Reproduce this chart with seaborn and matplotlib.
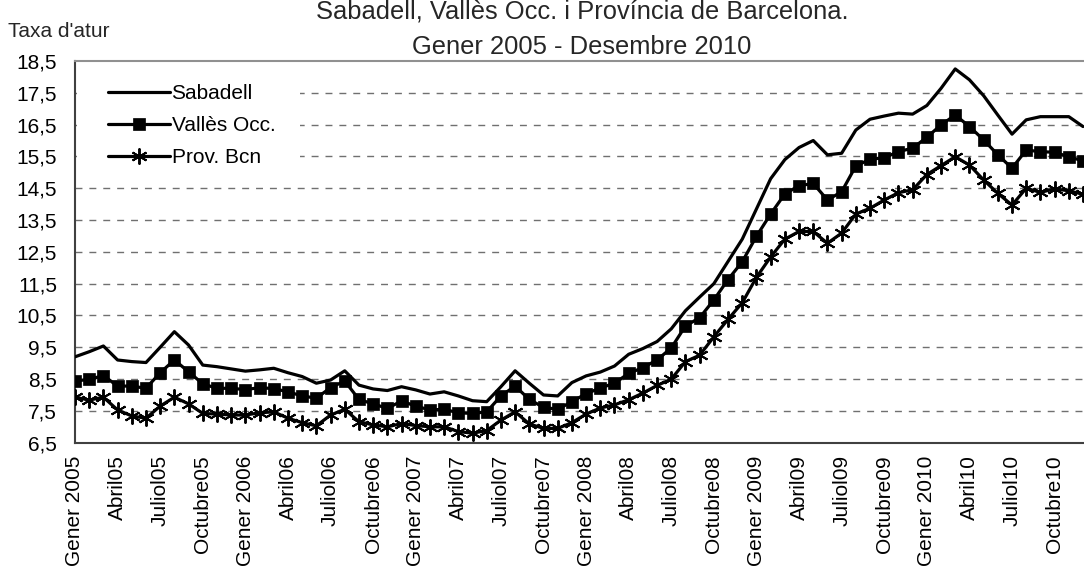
import matplotlib
matplotlib.use("Agg")
import matplotlib.pyplot as plt
import seaborn as sns
import pandas as pd
from matplotlib.patches import Rectangle
from matplotlib.ticker import FixedLocator, FuncFormatter

# ---- data ----
years = ["2005", "2006", "2007", "2008", "2009", "2010"]
tick_labels = []
for y in years:
    tick_labels += ["Gener " + y, "Abril" + y[2:], "Juliol" + y[2:], "Octubre" + y[2:]]

sabadell = [9.20, 9.36, 9.54, 9.10, 9.05, 9.02, 9.50, 9.99, 9.57, 8.94, 8.89, 8.82,
            8.75, 8.79, 8.84, 8.70, 8.58, 8.37, 8.47, 8.76, 8.31, 8.19, 8.14, 8.26,
            8.16, 8.03, 8.10, 7.97, 7.82, 7.79, 8.26, 8.76, 8.37, 8.00, 7.97, 8.39,
            8.60, 8.72, 8.91, 9.28, 9.46, 9.68, 10.08, 10.65, 11.08, 11.50, 12.20, 12.90,
            13.85, 14.80, 15.40, 15.78, 16.00, 15.55, 15.60, 16.33, 16.67, 16.77, 16.86, 16.83,
            17.10, 17.64, 18.25, 17.91, 17.41, 16.80, 16.20, 16.65, 16.75, 16.75, 16.75, 16.44]
valles = [8.44, 8.49, 8.61, 8.28, 8.28, 8.21, 8.70, 9.10, 8.73, 8.35, 8.21, 8.21,
          8.17, 8.23, 8.20, 8.10, 7.97, 7.90, 8.23, 8.44, 7.86, 7.72, 7.58, 7.81,
          7.65, 7.53, 7.55, 7.44, 7.42, 7.47, 7.97, 8.28, 7.86, 7.61, 7.55, 7.79,
          8.04, 8.22, 8.37, 8.68, 8.86, 9.10, 9.48, 10.17, 10.43, 10.99, 11.63, 12.19,
          12.99, 13.69, 14.32, 14.58, 14.65, 14.13, 14.39, 15.20, 15.41, 15.46, 15.65, 15.76,
          16.10, 16.49, 16.80, 16.44, 16.02, 15.55, 15.13, 15.70, 15.65, 15.63, 15.49, 15.36]
prov_bcn = [7.93, 7.84, 7.93, 7.53, 7.34, 7.27, 7.65, 7.93, 7.72, 7.42, 7.40, 7.37,
            7.37, 7.44, 7.47, 7.27, 7.13, 7.03, 7.37, 7.55, 7.16, 7.06, 7.00, 7.10,
            7.04, 7.00, 7.00, 6.85, 6.80, 6.88, 7.21, 7.47, 7.09, 6.95, 6.95, 7.13,
            7.40, 7.59, 7.69, 7.85, 8.06, 8.30, 8.50, 9.05, 9.25, 9.83, 10.38, 10.90,
            11.70, 12.34, 12.90, 13.14, 13.14, 12.77, 13.09, 13.69, 13.87, 14.13, 14.36, 14.45,
            14.93, 15.21, 15.49, 15.23, 14.76, 14.34, 13.97, 14.50, 14.37, 14.48, 14.42, 14.31]
series_names = ["Sabadell", "Vallès Occ.", "Prov. Bcn"]
y_ticks = [6.5, 7.5, 8.5, 9.5, 10.5, 11.5, 12.5, 13.5, 14.5, 15.5, 16.5, 17.5, 18.5]

month_idx = list(range(len(sabadell)))
df = pd.DataFrame({"mes": month_idx * 3,
                   "taxa": sabadell + valles + prov_bcn,
                   "serie": [series_names[0]] * 72 + [series_names[1]] * 72 + [series_names[2]] * 72})

# ---- style ----
sns.set_style("white")
plt.rcParams["font.family"] = ["Liberation Sans", "DejaVu Sans"]

W, H = 1084, 572
fig = plt.figure(figsize=(W / 100, H / 100), dpi=100)
left, right, top, bottom = 75, 1084, 61, 442.7
ax = fig.add_axes([left / W, 1 - bottom / H, (right - left) / W, (bottom - top) / H])

markers = {"Sabadell": None, "Vallès Occ.": "s", "Prov. Bcn": (6, 2, 0)}
msizes = {"Sabadell": 0, "Vallès Occ.": 8, "Prov. Bcn": 11.5}
mew = {"Sabadell": 0, "Vallès Occ.": 0.5, "Prov. Bcn": 1.4}
for name in series_names:
    sub = df[df["serie"] == name]
    sns.lineplot(data=sub, x="mes", y="taxa", ax=ax, color="black", linewidth=2.3,
                 label=name, zorder=3)
    line = ax.lines[-1]
    line.set_linestyle("-")
    if markers[name] is not None:
        line.set_marker(markers[name])
        line.set_markersize(msizes[name])
        line.set_markeredgewidth(mew[name])
        line.set_markerfacecolor("black")
        line.set_markeredgecolor("black")

ax.set_xlim(0, 71 * 1009 / 1008)
ax.set_ylim(6.5, 18.5)

ax.yaxis.set_major_locator(FixedLocator(y_ticks))
ax.yaxis.set_major_formatter(FuncFormatter(lambda v, p: f"{v:.1f}".replace(".", ",")))
ax.set_xticks(month_idx[::3])
ax.set_xticklabels(tick_labels, rotation=90)
ax.set_xticks(month_idx, minor=True)
ax.tick_params(axis="x", which="both", direction="out", length=5, width=1, colors="#404040",
               labelcolor="black", labelsize=15, pad=4)
ax.tick_params(axis="y", direction="out", length=5, width=1, colors="#404040",
               labelcolor="black", labelsize=15, pad=8)
ax.set_xlabel("")
ax.set_ylabel("")

for v in y_ticks[1:-1]:
    ax.axhline(v, color="#707070", linewidth=1, linestyle=(0, (5, 5)), zorder=0)

# white legend area (covers the gridlines behind the legend, as in the original)
ax.add_patch(Rectangle((0.002, 0.70), 0.221, 0.26, transform=ax.transAxes,
                       facecolor="white", edgecolor="none", zorder=1))

for s in ["left", "bottom"]:
    ax.spines[s].set_color("#404040")
    ax.spines[s].set_linewidth(1.5)
ax.spines["top"].set_color("#909090")
ax.spines["top"].set_linewidth(1.5)
ax.spines["right"].set_visible(False)

handles, labels = ax.get_legend_handles_labels()
leg = ax.legend(handles, labels, loc="upper left", bbox_to_anchor=(0.0327, 0.94),
                frameon=False, fontsize=15, handlelength=3.0, handletextpad=0.05,
                labelspacing=0.63, borderaxespad=0, borderpad=0)
for t in leg.get_texts():
    t.set_color("black")

fig.text(8 / W, 1 - 37 / H, "Taxa d'atur", fontsize=15, ha="left", va="baseline")
fig.text(582 / W, 1 - 19 / H, "Sabadell, Vallès Occ. i Província de Barcelona.",
         fontsize=18.4, ha="center", va="baseline")
fig.text(582 / W, 1 - 54 / H, "Gener 2005 - Desembre 2010", fontsize=18.4,
         ha="center", va="baseline")

fig.savefig("out.png", dpi=100)
